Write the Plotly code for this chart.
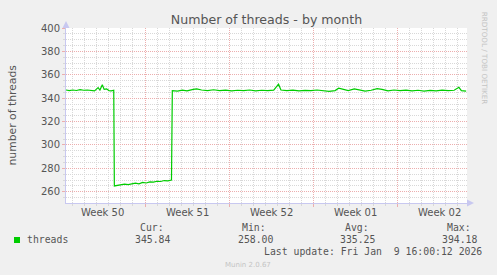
import plotly.graph_objects as go

# ---------------- data ----------------
# x = days relative to Monday 15 Dec 2025 00:00
days = [
    -6.57, -6.3, -6.0, -5.7, -5.4, -5.1, -4.8, -4.5, -4.2, -3.9, -3.75, -3.55,
    -3.4, -3.2, -3.0, -2.8, -2.6,
    -2.55, -2.3, -2.0, -1.7, -1.4, -1.1, -0.8, -0.5, -0.2, 0.1, 0.4, 0.7, 1.0,
    1.3, 1.6, 1.9, 2.2,
    2.27, 2.7, 3.1, 3.5, 4.0, 4.3, 4.7, 5.2, 5.7, 6.2, 6.7, 7.2, 7.7, 8.2, 8.7,
    9.2, 9.7, 10.2, 10.7, 11.1, 11.3, 11.8, 12.3, 12.8, 13.3, 13.8, 14.3, 14.8,
    15.3, 15.8, 16.1, 16.5, 16.9, 17.4, 17.8, 18.3, 18.8, 19.3, 19.7, 20.2, 20.7,
    21.2, 21.7, 22.2, 22.7, 23.2, 23.7, 24.2, 24.7, 25.2, 25.7, 26.1, 26.3, 26.7,
]
threads = [
    347.0, 346.5, 347.0, 346.6, 347.3, 346.8, 347.0, 346.5, 346.2, 349.0, 347.0, 351.5,
    347.5, 348.0, 346.5, 346.2, 346.8,
    265.0, 265.5, 266.0, 266.5, 266.2, 267.0, 267.4, 266.8, 268.0, 267.5, 268.5, 268.3, 269.0,
    268.8, 269.6, 269.3, 270.0,
    346.5, 346.0, 346.8, 346.3, 347.5, 348.0, 347.0, 346.5, 347.2, 346.4, 346.9, 346.2, 346.8, 346.5, 347.0,
    346.3, 346.8, 346.5, 346.9, 352.0, 347.0, 346.4, 346.9, 346.2, 346.7, 346.4, 347.0, 346.5,
    345.8, 346.5, 348.5, 347.5, 346.5, 348.0, 347.0, 346.0, 346.8, 348.2, 347.5, 346.2, 347.0,
    346.4, 346.9, 346.3, 346.8, 346.0, 346.7, 346.2, 346.9, 346.4, 346.8, 349.3, 346.5, 346.0,
]
monday_days = [0, 7, 14, 21]
week_label_days = [-3.5, 3.5, 10.5, 17.5, 24.5]
week_labels = ["Week 50", "Week 51", "Week 52", "Week 01", "Week 02"]
series_name = "threads"
stat_labels = ["Cur:", "Min:", "Avg:", "Max:"]
stat_values = [345.84, 258.00, 335.25, 394.18]
last_update = "Last update: Fri Jan \u00a09 16:00:12 2026"
title_text = "Number of threads - by month"
y_title = "number of threads"
side_text = "RRDTOOL / TOBI OETIKER"
footer_text = "Munin 2.0.67"

# ---------------- layout geometry ----------------
W, H = 497, 275
L, R, T, B = 66, 467, 28, 203
X_RANGE = [-6.57, 26.77]
Y_RANGE = [250.4, 400]


def px(xp, yp):
    return (xp - L) / (R - L), (B - yp) / (B - T)


GREEN = "#00CC00"
TXT = "#555555"
MAJ = "#ECAEAE"
MIN = "#D8D8D8"
AXIS = "#C8C8F0"
MONO = "DejaVu Sans Mono"
SANS = "DejaVu Sans"
DASH = "1px,1px"

fig = go.Figure(
    go.Scatter(x=days, y=threads, mode="lines",
               line=dict(color=GREEN, width=1.2),
               showlegend=False, hoverinfo="skip")
)

fig.update_layout(
    width=W, height=H, autosize=False,
    margin=dict(l=L, r=W - R, t=T, b=H - B, pad=0),
    paper_bgcolor="#F0F0F0", plot_bgcolor="#FFFFFF",
    font=dict(family=SANS, size=10, color=TXT),
    showlegend=False,
    title=dict(text=title_text, x=0.5, xref="paper", xanchor="center",
               y=1 - 19.5 / H, yref="container", yanchor="middle",
               font=dict(family=SANS, size=12.6, color=TXT)),
    xaxis=dict(
        range=X_RANGE, tickmode="array", tickvals=monday_days,
        showticklabels=False, showgrid=True, gridcolor=MAJ, gridwidth=1,
        griddash=DASH, ticks="outside", ticklen=3, tickcolor=MAJ,
        showline=True, linecolor=AXIS, linewidth=1, zeroline=False,
        fixedrange=True,
        minor=dict(tickmode="linear", tick0=0, dtick=1, showgrid=True,
                   gridcolor=MIN, griddash=DASH, gridwidth=1,
                   ticks="outside", ticklen=2, tickcolor=MIN),
    ),
    yaxis=dict(
        range=Y_RANGE, tickmode="linear", tick0=0, dtick=20,
        showgrid=True, gridcolor=MAJ, gridwidth=1, griddash=DASH,
        ticks="outside", ticklen=3, tickcolor=MAJ,
        showline=True, linecolor=AXIS, linewidth=1, zeroline=False,
        tickfont=dict(family=SANS, size=10, color=TXT),
        fixedrange=True,
        minor=dict(tickmode="linear", tick0=0, dtick=5, showgrid=True,
                   gridcolor=MIN, griddash=DASH, gridwidth=1,
                   ticks="outside", ticklen=2, tickcolor=MIN),
    ),
)

ann = []
# week labels under the x axis
for d, lab in zip(week_label_days, week_labels):
    ann.append(dict(x=d, xref="x", y=px(0, 212.7)[1], yref="paper",
                    text=lab, showarrow=False, xanchor="center", yanchor="middle",
                    font=dict(family=SANS, size=10, color=TXT),
                    borderpad=0, borderwidth=0))

# y-axis title
xa, ya = px(12, 115.5)
ann.append(dict(x=xa, y=ya, xref="paper", yref="paper", text=y_title,
                textangle=-90, showarrow=False, xanchor="center", yanchor="middle",
                font=dict(family=SANS, size=10.8, color=TXT), borderpad=0, borderwidth=0))

# side credit
xa, ya = px(484.7, 58.5)
ann.append(dict(x=xa, y=ya, xref="paper", yref="paper", text=side_text,
                textangle=90, showarrow=False, xanchor="center", yanchor="middle",
                font=dict(family=SANS, size=7.2, color="#C4C4C4"), borderpad=0, borderwidth=0))

# legend entry
xa, ya = px(26.7, 239.5)
ann.append(dict(x=xa, y=ya, xref="paper", yref="paper", text=series_name,
                showarrow=False, xanchor="left", yanchor="middle",
                font=dict(family=MONO, size=9.8, color=TXT), borderpad=0, borderwidth=0))

# statistics table
head_right = [163.5, 266, 368.5, 470.5]
val_right = [169.5, 272.5, 375, 477]
for lab, v, hx, vx in zip(stat_labels, stat_values, head_right, val_right):
    xa, ya = px(hx, 227.7)
    ann.append(dict(x=xa, y=ya, xref="paper", yref="paper", text=lab,
                    showarrow=False, xanchor="right", yanchor="middle",
                    font=dict(family=MONO, size=9.8, color=TXT), borderpad=0, borderwidth=0))
    xa, ya = px(vx, 239.5)
    ann.append(dict(x=xa, y=ya, xref="paper", yref="paper", text=f"{v:.2f}",
                    showarrow=False, xanchor="right", yanchor="middle",
                    font=dict(family=MONO, size=9.8, color=TXT), borderpad=0, borderwidth=0))

xa, ya = px(482, 251.3)
ann.append(dict(x=xa, y=ya, xref="paper", yref="paper", text=last_update,
                showarrow=False, xanchor="right", yanchor="middle",
                font=dict(family=MONO, size=9.8, color=TXT), borderpad=0, borderwidth=0))

xa, ya = px(248, 264.5)
ann.append(dict(x=xa, y=ya, xref="paper", yref="paper", text=footer_text,
                showarrow=False, xanchor="center", yanchor="middle",
                font=dict(family=SANS, size=7, color="#C4C4C4"), borderpad=0, borderwidth=0))

fig.update_layout(annotations=ann)

# legend swatch
x0, y0 = px(14, 237)
x1, y1 = px(20, 243)
shapes = [dict(type="rect", xref="paper", yref="paper", x0=x0, x1=x1, y0=y1, y1=y0,
               fillcolor=GREEN, line=dict(width=0))]
# axis arrowheads
shapes.append(dict(type="path", xref="x domain", yref="y domain",
                   xsizemode="pixel", ysizemode="pixel", xanchor=0, yanchor=1,
                   path="M -3.5 0 L 3.5 0 L 0 7 Z", fillcolor=AXIS, line=dict(width=0)))
shapes.append(dict(type="path", xref="x domain", yref="y domain",
                   xsizemode="pixel", ysizemode="pixel", xanchor=1, yanchor=0,
                   path="M 0 -3.5 L 0 3.5 L 7 0 Z", fillcolor=AXIS, line=dict(width=0)))
fig.update_layout(shapes=shapes)

fig.write_html("out.html", config={"displayModeBar": False})
